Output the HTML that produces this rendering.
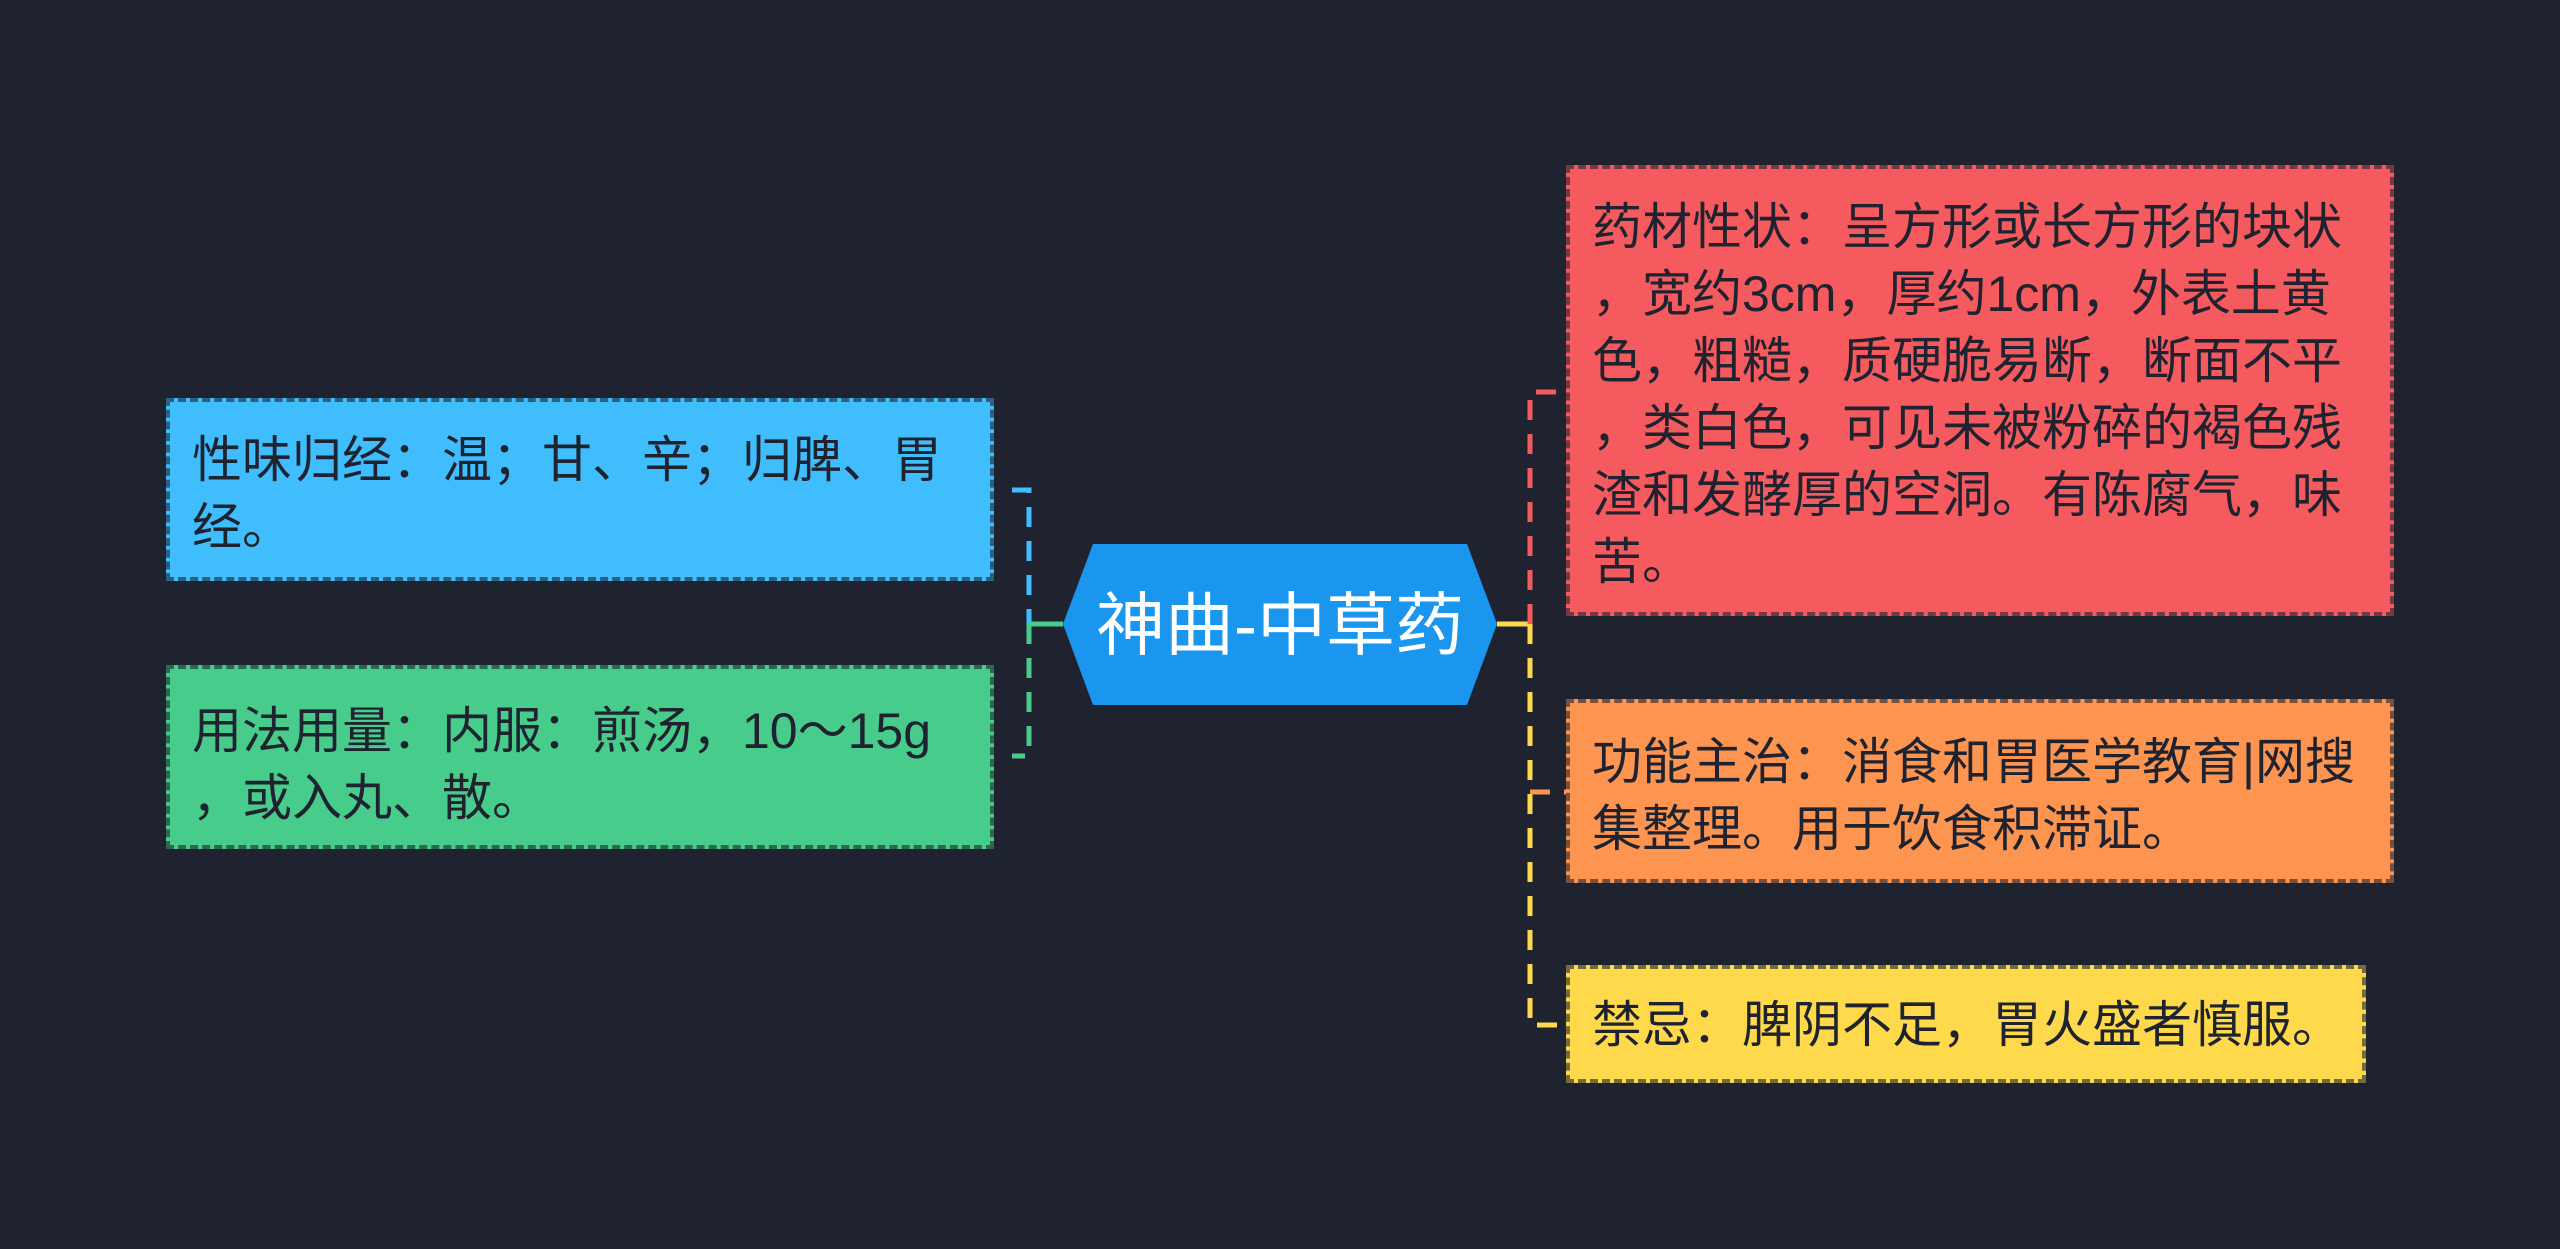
<!DOCTYPE html>
<html><head><meta charset="utf-8"><style>
html,body{margin:0;padding:0;background:#1f2330;width:2560px;height:1249px;overflow:hidden;position:relative;font-family:"Liberation Sans","Noto Sans CJK SC",sans-serif}
.b{position:absolute;box-sizing:border-box;border:4px dashed rgba(30,35,48,0.6);color:#1f2330;font-size:50px;line-height:67px;white-space:nowrap;padding-left:22px}
</style></head><body>
<svg width="2560" height="1249" style="position:absolute;left:0;top:0">
<g fill="none" stroke-width="5">
<path d="M1012 490 H1029 V624" stroke="#40bdfd" stroke-dasharray="20 14"/>
<path d="M1029 624 V756 H1012" stroke="#48cc8b" stroke-dasharray="20 14"/>
<path d="M1029 624 H1063" stroke="#48cc8b"/>
<path d="M1497 624 H1530" stroke="#fdd94b"/>
<path d="M1530 624 V392 H1566" stroke="#f55a5e" stroke-dasharray="20 14"/>
<path d="M1530 624 V1025 H1566" stroke="#fdd94b" stroke-dasharray="20 14"/>
<path d="M1530 792 H1566" stroke="#fd9551" stroke-dasharray="20 14"/>
</g>
<polygon points="1093,544 1467,544 1497,624 1467,705 1093,705 1063,624" fill="#1a96ee"/>
<text x="1280" y="649" fill="#fff" font-size="69" text-anchor="middle" font-family="Liberation Sans, Noto Sans CJK SC, sans-serif">神曲-中草药</text>
</svg>
<div class="b" style="left:166px;top:398px;width:828px;height:183px;background:#40bdfd;padding-top:25px">性味归经：温；甘、辛；归脾、胃<br>经。</div>
<div class="b" style="left:166px;top:665px;width:828px;height:184px;background:#48cc8b;padding-top:29px">用法用量：内服：煎汤，10～15g<br>，或入丸、散。</div>
<div class="b" style="left:1566px;top:165px;width:828px;height:451px;background:#f55a5e;padding-top:25px">药材性状：呈方形或长方形的块状<br>，宽约3cm，厚约1cm，外表土黄<br>色，粗糙，质硬脆易断，断面不平<br>，类白色，可见未被粉碎的褐色残<br>渣和发酵厚的空洞。有陈腐气，味<br>苦。</div>
<div class="b" style="left:1566px;top:699px;width:828px;height:184px;background:#fd9551;padding-top:26px">功能主治：消食和胃医学教育|网搜<br>集整理。用于饮食积滞证。</div>
<div class="b" style="left:1566px;top:965px;width:800px;height:118px;background:#fdd94b;padding-top:23px">禁忌：脾阴不足，胃火盛者慎服。</div>
</body></html>
